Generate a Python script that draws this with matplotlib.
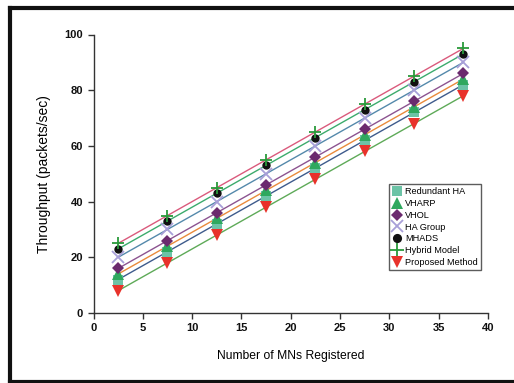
import numpy as np
import matplotlib
matplotlib.use("Agg")
import matplotlib.pyplot as plt
from matplotlib.lines import Line2D

# ==========================================================
# Data
# ==========================================================

mns = [2.5, 7.5, 12.5, 17.5, 22.5, 27.5, 32.5, 37.5]

redundant_ha = [12, 22, 32, 42, 52, 62, 72, 82]
vharp = [14, 24, 34, 44, 54, 64, 74, 84]
vhol = [16, 26, 36, 46, 56, 66, 76, 86]
ha_group = [20, 30, 40, 50, 60, 70, 80, 90]
mhads = [23, 33, 43, 53, 63, 73, 83, 93]
hybrid_model = [25, 35, 45, 55, 65, 75, 85, 95]
proposed = [8, 18, 28, 38, 48, 58, 68, 78]

series = [
    ("Redundant HA", redundant_ha, "s", "#6cc3a6", "#3e5b8c", 7),
    ("VHARP", vharp, "^", "#2fa85e", "#e98a3c", 8),
    ("VHOL", vhol, "D", "#6b2a6e", "#8c5390", 6),
    ("HA Group", ha_group, "x", "#a89fd8", "#5489ab", 8),
    ("MHADS", mhads, "o", "#111111", "#3cab6c", 6),
    ("Hybrid Model", hybrid_model, "+", "#2a9a3a", "#da5a7c", 9),
    ("Proposed Method", proposed, "v", "#e8322b", "#5eaa58", 8),
]

plt.rcParams['font.family'] = ['Liberation Sans', 'DejaVu Sans']

fig = plt.figure(figsize=(5.14, 3.83), dpi=100)
ax = fig.add_axes([93.5 / 514, 1 - 313 / 383, 394.5 / 514, 278.5 / 383])

# ==========================================================
# Points and fitted lines
# ==========================================================

x = np.array(mns)
for name, vals, mk, mcol, lcol, ms in series:
    coef = np.polyfit(x, vals, 1)
    ax.plot(x, np.polyval(coef, x), color=lcol, lw=1.0, zorder=2)
    mew = 1.3 if mk in ("x", "+") else 0.0
    ax.plot(x, vals, linestyle="none", marker=mk, color=mcol,
            markersize=ms, markeredgewidth=mew, label=name, zorder=3)

ax.set_xlim(0, 40)
ax.set_ylim(0, 100)
ax.set_xticks([0, 5, 10, 15, 20, 25, 30, 35, 40])
ax.set_yticks([0, 20, 40, 60, 80, 100])

for s in ["top", "right"]:
    ax.spines[s].set_visible(False)
for s in ["left", "bottom"]:
    ax.spines[s].set_color("#333333")
    ax.spines[s].set_linewidth(1.0)

ax.tick_params(direction="out", length=4, width=1.0, colors="#333333",
               labelcolor="#111111", labelsize=8)
for lab in ax.get_xticklabels() + ax.get_yticklabels():
    lab.set_fontweight("bold")

ax.set_xlabel("Number of MNs Registered", fontsize=8.7, labelpad=12)
ax.set_ylabel("Throughput (packets/sec)", fontsize=10, labelpad=10)

leg = ax.legend(loc="upper left", bbox_to_anchor=(0.749, 0.463),
                fontsize=6.6, frameon=True, fancybox=False, markerscale=1.1,
                handlelength=1.0, handletextpad=0.4, labelspacing=0.3,
                borderpad=0.35, borderaxespad=0)
leg.get_frame().set_edgecolor("#333333")
leg.get_frame().set_linewidth(1.0)

# outer frame of the picture (left, top, bottom edges only)
fx0, fy0, fy1 = 10 / 514, 1.5 / 383, 1 - 8 / 383
for xs, ys in [([fx0, fx0], [fy0, fy1]), ([fx0, 1], [fy1, fy1]),
               ([fx0, 1], [fy0, fy0])]:
    fig.lines.append(Line2D(xs, ys, transform=fig.transFigure,
                            color="#111111", linewidth=3.0,
                            solid_capstyle="projecting"))

fig.savefig("out.png", dpi=100)
